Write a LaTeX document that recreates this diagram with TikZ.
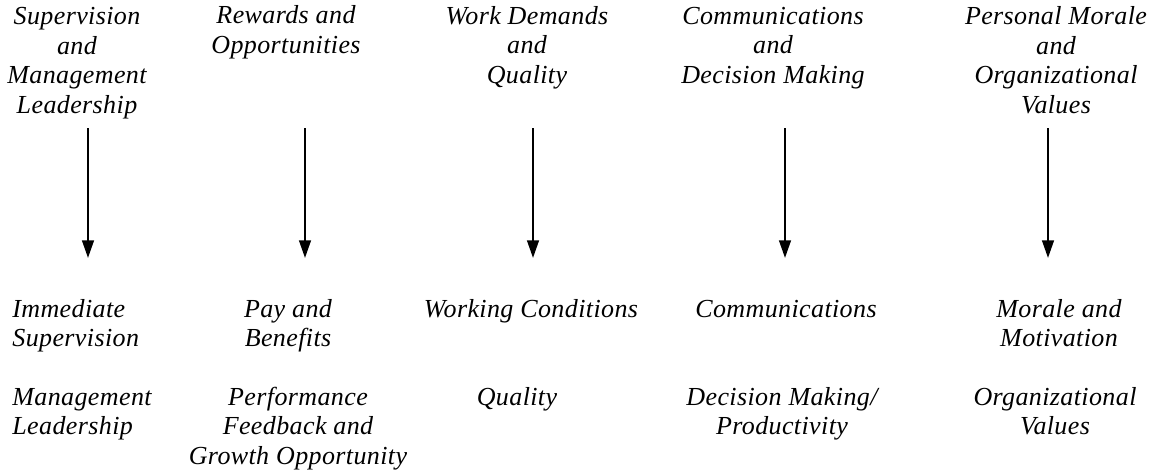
\documentclass[tikz,border=0pt]{standalone}
\usepackage{fontspec}
\setmainfont[LetterSpace=1.5]{Liberation Serif}
\usetikzlibrary{arrows.meta}

\tikzset{
  beschriftung/.style={font=\fontsize{13}{14.75}\selectfont\itshape, align=center, inner sep=0pt, anchor=base},
  pfeil/.style={line width=1.2pt, -{Triangle[length=8.8pt,width=5.8pt]}}
}

\begin{document}
\begin{tikzpicture}[x=0.5pt, y=-0.5pt]
        \useasboundingbox (0,0) rectangle (1162,473);

        % Obere Beschriftungen (Bereiche), Position = Grundlinie der letzten Zeile
        \node[beschriftung] (bereich1) at (77,113) {Supervision\\and\\Management\\Leadership};
        \node[beschriftung] (bereich2) at (286,53) {Rewards and\\Opportunities};
        \node[beschriftung] (bereich3) at (527,83) {Work Demands\\and\\Quality};
        \node[beschriftung] (bereich4) at (773,83) {Communications\\and\\Decision Making};
        \node[beschriftung] (bereich5) at (1056,113) {Personal Morale\\and\\Organizational\\Values};

        % Pfeile
        \foreach \i/\x in {1/88, 2/305, 3/533, 4/785, 5/1048} {
            \coordinate (oben\i) at (\x,128);
            \coordinate (unten\i) at (\x,258);
            \draw[pfeil] (oben\i) -- (unten\i);
        }

        % Untere Beschriftungen (Faktoren)
        \node[beschriftung, align=left, anchor=base west] (faktor1a) at (12,346.5) {Immediate\\Supervision};
        \node[beschriftung, align=left, anchor=base west] (faktor1b) at (12,434.5) {Management\\Leadership};
        \node[beschriftung] (faktor2a) at (288,346.5) {Pay and\\Benefits};
        \node[beschriftung] (faktor2b) at (298,464) {Performance\\Feedback and\\Growth Opportunity};
        \node[beschriftung] (faktor3a) at (531,317) {Working Conditions};
        \node[beschriftung] (faktor3b) at (517,405) {Quality};
        \node[beschriftung] (faktor4a) at (786,317) {Communications};
        \node[beschriftung] (faktor4b) at (782,434.5) {Decision Making/\\Productivity};
        \node[beschriftung] (faktor5a) at (1059,346.5) {Morale and\\Motivation};
        \node[beschriftung] (faktor5b) at (1055,434.5) {Organizational\\Values};
\end{tikzpicture}
\end{document}
